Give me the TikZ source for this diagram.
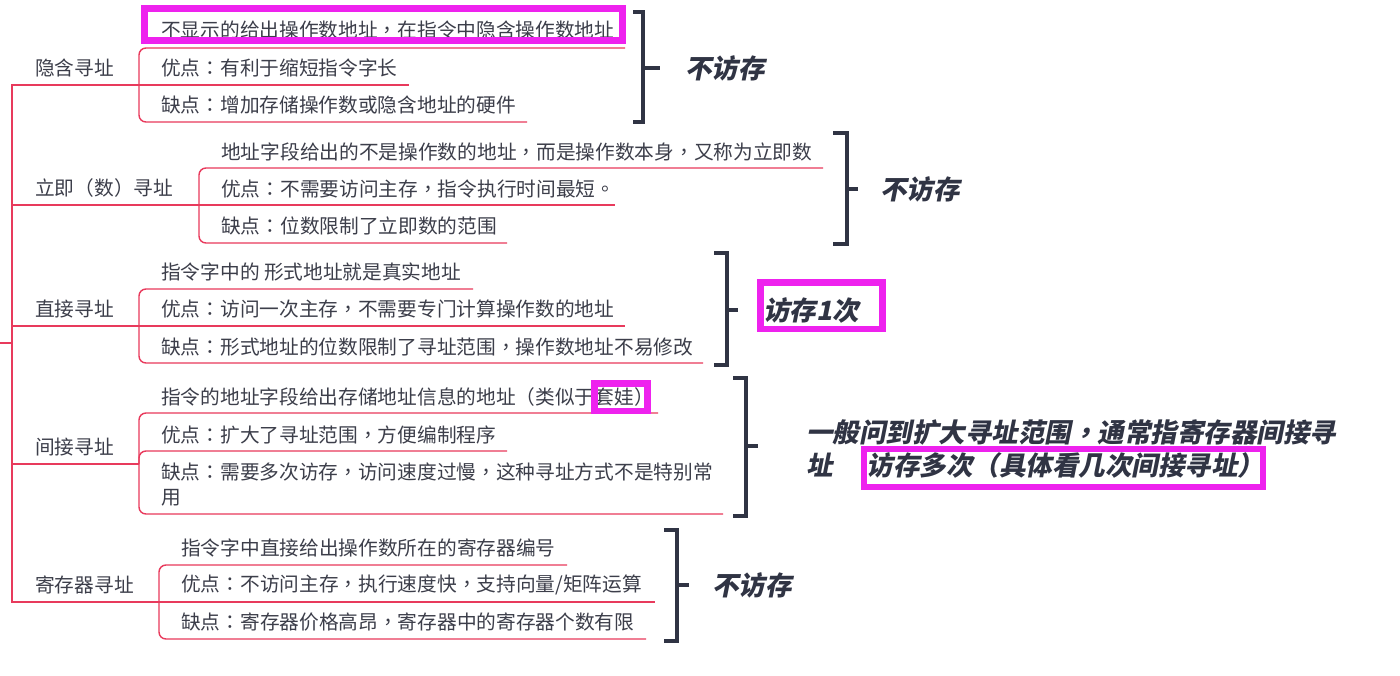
\documentclass[tikz,border=0pt]{standalone}
\usepackage{fontspec}
\setmainfont{Noto Sans CJK SC}
\newfontfamily\emfont[FakeSlant=0.2]{Noto Sans CJK SC}
\newfontfamily\tcfont[Script=CJK,Language=Chinese Traditional]{Noto Sans CJK TC}
\newfontfamily\emtcfont[Script=CJK,Language=Chinese Traditional,FakeSlant=0.2]{Noto Sans CJK TC}
\newcommand\pz[1]{{\pzfont #1}}
\let\pzfont\tcfont
\definecolor{linkred}{RGB}{232,58,92}
\definecolor{textgray}{RGB}{60,62,74}
\definecolor{brkgray}{RGB}{48,52,68}
\definecolor{hlmag}{RGB}{238,34,238}
\begin{document}
\begin{tikzpicture}[x=1pt,y=-1pt,
  link/.style={draw=linkred,line width=1.4pt,rounded corners=7pt},
  trunk/.style={draw=linkred,line width=1.4pt},
  txt/.style={anchor=west,inner sep=0pt,text=textgray,font=\fontsize{19.7}{25}\selectfont\let\pzfont\tcfont,align=left},
  brk/.style={draw=brkgray,line width=4pt},
  emtxt/.style={anchor=west,inner sep=0pt,text=brkgray,font=\emfont\bfseries\fontsize{26.5}{33}\selectfont\let\pzfont\emtcfont,align=left},
  hl/.style={draw=hlmag,line width=7pt}]
\useasboundingbox (0,0) rectangle (1400,675);
\fill[white] (0,0) rectangle (1400,675);

% ---- trunk
\coordinate (root) at (0,343);
\coordinate (sp) at (12,343);
\coordinate (b1) at (139,85);
\coordinate (b2) at (199,205);
\coordinate (b3) at (139,326);
\coordinate (b4) at (139,464);
\coordinate (b5) at (159,602);
\draw[trunk] (root) -- (sp);
\draw[trunk] (sp) |- (b1);
\draw[trunk] (sp) |- (b2);
\draw[trunk] (sp) |- (b3);
\draw[trunk] (sp) |- (b4);
\draw[trunk] (sp) |- (b5);

% ---- branch labels
\node[txt] (l1) at (35,68) {隐含寻址};
\node[txt] (l2) at (35,188) {立即\pz{（}数\pz{）}寻址};
\node[txt] (l3) at (35,309) {直接寻址};
\node[txt] (l4) at (35,447) {间接寻址};
\node[txt] (l5) at (35,585) {寄存器寻址};

% ---- branch 1
\node[txt] (c11) at (161,30) {不显示的给出操作数地址\pz{，}在指令中隐含操作数地址};
\node[txt] (c12) at (161,68) {优点\pz{：}有利于缩短指令字长};
\node[txt] (c13) at (161,105) {缺点\pz{：}增加存储操作数或隐含地址的硬件};
\coordinate (e11) at (625,48);
\coordinate (e12) at (409,85);
\coordinate (e13) at (527,122);
\draw[link] (b1) |- (e11);
\draw[link] (b1) -- (e12);
\draw[link] (b1) |- (e13);

% ---- branch 2
\node[txt] (c21) at (221,152) {地址字段给出的不是操作数的地址\pz{，}而是操作数本身\pz{，}又称为立即数};
\node[txt] (c22) at (221,189) {优点\pz{：}不需要访问主存\pz{，}指令执行时间最短\pz{。}};
\node[txt] (c23) at (221,226) {缺点\pz{：}位数限制了立即数的范围};
\coordinate (e21) at (823,168);
\coordinate (e22) at (615,205);
\coordinate (e23) at (507,243);
\draw[link] (b2) |- (e21);
\draw[link] (b2) -- (e22);
\draw[link] (b2) |- (e23);

% ---- branch 3
\node[txt] (c31) at (161,272) {指令字中的 形式地址就是真实地址};
\node[txt] (c32) at (161,309) {优点\pz{：}访问一次主存\pz{，}不需要专门计算操作数的地址};
\node[txt] (c33) at (161,347) {缺点\pz{：}形式地址的位数限制了寻址范围\pz{，}操作数地址不易修改};
\coordinate (e31) at (473,289);
\coordinate (e32) at (625,326);
\coordinate (e33) at (703,363);
\draw[link] (b3) |- (e31);
\draw[link] (b3) -- (e32);
\draw[link] (b3) |- (e33);

% ---- branch 4
\node[txt] (c41) at (161,397) {指令的地址字段给出存储地址信息的地址\pz{（}类似于套娃\pz{）}};
\node[txt] (c42) at (161,435) {优点\pz{：}扩大了寻址范围\pz{，}方便编制程序};
\node[txt] (c43) at (161,484.5) {缺点\pz{：}需要多次访存\pz{，}访问速度过慢\pz{，}这种寻址方式不是特别常\\用};
\coordinate (e41) at (658,413);
\coordinate (e42) at (507,451);
\coordinate (e43) at (723,514);
\draw[link] (b4) |- (e41);
\draw[link] (b4) |- (e42);
\draw[link] (b4) |- (e43);

% ---- branch 5
\node[txt] (c51) at (181,548) {指令字中直接给出操作数所在的寄存器编号};
\node[txt] (c52) at (181,585) {优点\pz{：}不访问主存\pz{，}执行速度快\pz{，}支持向量/矩阵运算};
\node[txt] (c53) at (181,622) {缺点\pz{：}寄存器价格高昂\pz{，}寄存器中的寄存器个数有限};
\coordinate (e51) at (567,565);
\coordinate (e52) at (655,602);
\coordinate (e53) at (646,639);
\draw[link] (b5) |- (e51);
\draw[link] (b5) -- (e52);
\draw[link] (b5) |- (e53);

% ---- brackets and notes
\draw[brk] (633,12) -- (643,12) -- (643,122) -- (633,122);
\draw[brk] (643,68) -- (660,68);
\node[emtxt] (n1) at (685,68) {不访存};

\draw[brk] (833,133) -- (847,133) -- (847,244) -- (833,244);
\draw[brk] (847,189) -- (858,189);
\node[emtxt] (n2) at (880,189) {不访存};

\draw[brk] (714,253) -- (727,253) -- (727,365) -- (714,365);
\draw[brk] (727,310) -- (738,310);
\node[emtxt] (n3) at (763,310) {访存1次};

\draw[brk] (733,378) -- (746,378) -- (746,516) -- (733,516);
\draw[brk] (746,446) -- (758,446);
\node[emtxt] (n4) at (806,448.5) {一般问到扩大寻址范围\pz{，}通常指寄存器间接寻\\址\hspace{34pt}访存多次\pz{（}具体看几次间接寻址\pz{）}};

\draw[brk] (664,530) -- (677,530) -- (677,641) -- (664,641);
\draw[brk] (677,585) -- (689,585);
\node[emtxt] (n5) at (712,585) {不访存};

% ---- highlight boxes
\draw[hl] (144.5,8) rectangle (622,40.5);
\draw[hl,line width=6.5pt] (594.5,383.5) rectangle (647.5,411);
\draw[hl,line width=6.5pt] (760.5,282.5) rectangle (882.5,329);
\draw[hl,line width=6.5pt] (864,449) rectangle (1263,487);
\end{tikzpicture}
\end{document}
